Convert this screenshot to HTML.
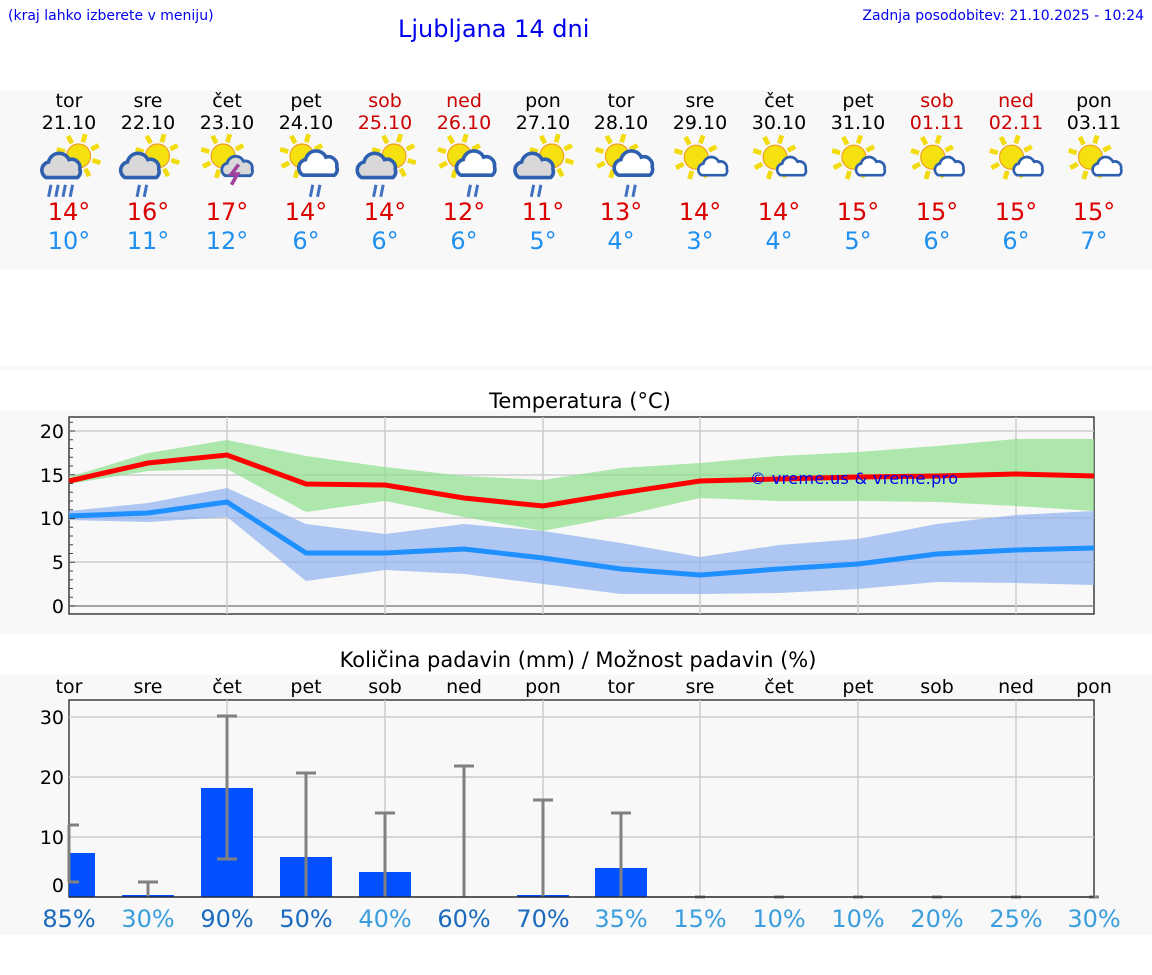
<!DOCTYPE html>
<html><head><meta charset="utf-8"><style>
body{margin:0;width:1152px;height:975px;background:#fff;font-family:"DejaVu Sans","Liberation Sans",sans-serif;position:relative;overflow:hidden}
.a{position:absolute}
</style></head><body>
<div class="a" style="left:8px;top:8px;font-size:14px;color:#0000ee">(kraj lahko izberete v meniju)</div>
<div class="a" style="left:398px;top:15px;font-size:24px;color:#0000ee">Ljubljana 14 dni</div>
<div class="a" style="right:8px;top:8px;font-size:14px;color:#0000ee">Zadnja posodobitev: 21.10.2025 - 10:24</div>
<div class="a" style="left:0;top:90px;width:1152px;height:179px;background:#f8f8f8"></div>
<div class="a" style="left:0;top:366px;width:1152px;height:4px;background:#f8f8f8"></div>
<div class="a" style="left:0;top:410px;width:1152px;height:224px;background:#f8f8f8"></div>
<div class="a" style="left:0;top:675px;width:1152px;height:260px;background:#f8f8f8"></div>
<svg class="a" style="left:0;top:0" width="1152" height="975" font-family="DejaVu Sans, Liberation Sans, sans-serif">
<g font-size="19" text-anchor="middle">
<g fill="#000"><text x="69" y="107">tor</text><text x="148" y="107">sre</text><text x="227" y="107">čet</text><text x="306" y="107">pet</text><text x="543" y="107">pon</text><text x="621" y="107">tor</text><text x="700" y="107">sre</text><text x="779" y="107">čet</text><text x="858" y="107">pet</text><text x="1094" y="107">pon</text>
<text x="69" y="129">21.10</text><text x="148" y="129">22.10</text><text x="227" y="129">23.10</text><text x="306" y="129">24.10</text><text x="543" y="129">27.10</text><text x="621" y="129">28.10</text><text x="700" y="129">29.10</text><text x="779" y="129">30.10</text><text x="858" y="129">31.10</text><text x="1094" y="129">03.11</text></g>
<g fill="#cc0000"><text x="385" y="107">sob</text><text x="464" y="107">ned</text><text x="937" y="107">sob</text><text x="1016" y="107">ned</text>
<text x="385" y="129">25.10</text><text x="464" y="129">26.10</text><text x="937" y="129">01.11</text><text x="1016" y="129">02.11</text></g>
</g>
<g font-size="24" text-anchor="middle">
<g fill="#dd0000"><text x="69" y="220">14°</text><text x="148" y="220">16°</text><text x="227" y="220">17°</text><text x="306" y="220">14°</text><text x="385" y="220">14°</text><text x="464" y="220">12°</text><text x="543" y="220">11°</text><text x="621" y="220">13°</text><text x="700" y="220">14°</text><text x="779" y="220">14°</text><text x="858" y="220">15°</text><text x="937" y="220">15°</text><text x="1016" y="220">15°</text><text x="1094" y="220">15°</text></g>
<g fill="#2090f0"><text x="69" y="249">10°</text><text x="148" y="249">11°</text><text x="227" y="249">12°</text><text x="306" y="249">6°</text><text x="385" y="249">6°</text><text x="464" y="249">6°</text><text x="543" y="249">5°</text><text x="621" y="249">4°</text><text x="700" y="249">3°</text><text x="779" y="249">4°</text><text x="858" y="249">5°</text><text x="937" y="249">6°</text><text x="1016" y="249">6°</text><text x="1094" y="249">7°</text></g>
</g>
<g id="icons"></g>

<text x="580" y="408" font-size="21" text-anchor="middle" fill="#000">Temperatura (°C)</text>
<rect x="69" y="417" width="1025" height="197" fill="#f8f8f8" stroke="#222" stroke-width="1.3"/>
<g stroke="#ccc" stroke-width="1.5">
<line x1="69" y1="431" x2="1094" y2="431"/><line x1="69" y1="475" x2="1094" y2="475"/><line x1="69" y1="518" x2="1094" y2="518"/><line x1="69" y1="562" x2="1094" y2="562"/><line x1="69" y1="606" x2="1094" y2="606" stroke="#888"/>
<line x1="227" y1="417" x2="227" y2="614"/><line x1="385" y1="417" x2="385" y2="614"/><line x1="543" y1="417" x2="543" y2="614"/><line x1="700" y1="417" x2="700" y2="614"/><line x1="858" y1="417" x2="858" y2="614"/><line x1="1016" y1="417" x2="1016" y2="614"/>
</g>
<polygon fill="#8fdf8c" opacity="0.7" points="69,477 148,453 227,440 306,456 385,467 464,476 543,480 621,468 700,463 779,456 858,452 937,446 1016,439 1094,439 1094,511 1016,506 937,502 858,501 779,501 700,498 621,516 543,531 464,517 385,501 306,512 227,469 148,471 69,484"/>
<polygon fill="#8fb0ef" opacity="0.7" points="69,511 148,503 227,488 306,524 385,534 464,524 543,531 621,543 700,557 779,545 858,539 937,524 1016,515 1094,511 1094,585 1016,583 937,582 858,589 779,593 700,594 621,594 543,584 464,574 385,570 306,581 227,517 148,522 69,520"/>
<polyline fill="none" stroke="#ff0000" stroke-width="5" points="69,481 148,463 227,455 306,484 385,485 464,498 543,506 621,493 700,481 779,479 858,477 937,476 1016,474 1094,476"/>
<polyline fill="none" stroke="#1e90ff" stroke-width="5" points="69,516 148,513 227,502 306,553 385,553 464,549 543,558 621,569 700,575 779,569 858,564 937,554 1016,550 1094,548"/>
<text x="750" y="484" font-size="16" fill="#0000ee" textLength="208">© vreme.us &amp; vreme.pro</text>
<g stroke="#444" stroke-width="1" id="ticks"></g>
<g font-size="19" text-anchor="end" fill="#000"><text x="64" y="438">20</text><text x="64" y="482">15</text><text x="64" y="525">10</text><text x="64" y="569">5</text><text x="64" y="613">0</text></g>

<text x="578" y="667" font-size="21" text-anchor="middle" fill="#000">Količina padavin (mm) / Možnost padavin (%)</text>
<g font-size="19" text-anchor="middle" fill="#000"><text x="69" y="693">tor</text><text x="148" y="693">sre</text><text x="227" y="693">čet</text><text x="306" y="693">pet</text><text x="385" y="693">sob</text><text x="464" y="693">ned</text><text x="543" y="693">pon</text><text x="621" y="693">tor</text><text x="700" y="693">sre</text><text x="779" y="693">čet</text><text x="858" y="693">pet</text><text x="937" y="693">sob</text><text x="1016" y="693">ned</text><text x="1094" y="693">pon</text></g>
<rect x="69" y="700" width="1025" height="197" fill="#f8f8f8" stroke="#222" stroke-width="1.3"/>
<g stroke="#ccc" stroke-width="1.5">
<line x1="69" y1="717" x2="1094" y2="717"/><line x1="69" y1="777" x2="1094" y2="777"/><line x1="69" y1="837" x2="1094" y2="837"/>
<line x1="227" y1="700" x2="227" y2="897"/><line x1="385" y1="700" x2="385" y2="897"/><line x1="543" y1="700" x2="543" y2="897"/><line x1="700" y1="700" x2="700" y2="897"/><line x1="858" y1="700" x2="858" y2="897"/><line x1="1016" y1="700" x2="1016" y2="897"/>
</g>
<g fill="#0050ff"><rect x="69" y="853" width="26" height="44"/><rect x="122" y="895" width="52" height="2"/><rect x="201" y="788" width="52" height="109"/><rect x="280" y="857" width="52" height="40"/><rect x="359" y="872" width="52" height="25"/><rect x="517" y="895" width="52" height="2"/><rect x="595" y="868" width="52" height="29"/></g>
<g stroke="#808080" stroke-width="3" fill="none">
<path d="M69,825V882M69,825h10M69,882h10"/>
<path d="M148,882V897M138,882h20"/>
<path d="M227,716V859M217,716h20M217,859h20"/>
<path d="M306,773V897M296,773h20"/>
<path d="M385,813V897M375,813h20"/>
<path d="M464,766V897M454,766h20"/>
<path d="M543,800V897M533,800h20"/>
<path d="M621,813V897M611,813h20"/>
<path d="M695,897h10M774,897h10M853,897h10M932,897h10M1011,897h10M1089,897h10"/>
</g>
<line x1="69" y1="897" x2="1094" y2="897" stroke="#222" stroke-width="1.3"/>
<g font-size="19" text-anchor="end" fill="#000"><text x="64" y="724">30</text><text x="64" y="784">20</text><text x="64" y="844">10</text><text x="64" y="892">0</text></g>
<g font-size="24" text-anchor="middle">
<text x="69" y="927" fill="#1a6bbf">85%</text><text x="148" y="927" fill="#3a9ede">30%</text><text x="227" y="927" fill="#1a6bbf">90%</text><text x="306" y="927" fill="#1a6bbf">50%</text><text x="385" y="927" fill="#3a9ede">40%</text><text x="464" y="927" fill="#1a6bbf">60%</text><text x="543" y="927" fill="#1a6bbf">70%</text><text x="621" y="927" fill="#3a9ede">35%</text><text x="700" y="927" fill="#3a9ede">15%</text><text x="779" y="927" fill="#3a9ede">10%</text><text x="858" y="927" fill="#3a9ede">10%</text><text x="937" y="927" fill="#3a9ede">20%</text><text x="1016" y="927" fill="#3a9ede">25%</text><text x="1094" y="927" fill="#3a9ede">30%</text>
</g>
</svg>
<script>
var t='';for(var v=0;v<=21;v++){var y=606-8.75*v;t+='<line x1="69" y1="'+y+'" x2="'+(v%5==0?75:73)+'" y2="'+y+'"/>';}document.getElementById('ticks').innerHTML=t;
var types=[0,1,2,3,1,3,1,3,4,4,4,4,4,4];var g=document.getElementById('icons');var h='';
function sun(x,y){var s='';for(var k=0;k<8;k++){var a=k*Math.PI/4+0.3;s+='<line x1="'+(x+Math.cos(a)*12)+'" y1="'+(y+Math.sin(a)*12)+'" x2="'+(x+Math.cos(a)*19)+'" y2="'+(y+Math.sin(a)*19)+'" stroke="#f2dc10" stroke-width="4"/>';}return s+'<circle cx="'+x+'" cy="'+y+'" r="10" fill="#f5e010" stroke="#f0a020" stroke-width="1"/>';}
function cloud(x,y,sc,f){return '<g transform="translate('+x+','+y+') scale('+sc+')"><path d="M-14,8 a7,7 0 0 1 2,-13 a9,9 0 0 1 17,-2 a7,7 0 0 1 9,8 a6,6 0 0 1 -2,7 z" fill="'+f+'" stroke="#2f60b0" stroke-width="3"/></g>';}
function rain(x,y,n){var s='';for(var k=0;k<n;k++){s+='<line x1="'+(x+k*6)+'" y1="'+y+'" x2="'+(x+k*6-2)+'" y2="'+(y+10)+'" stroke="#4070c0" stroke-width="2.5"/>';}return s;}
for(var i=0;i<14;i++){var cx=69+78.85*i,x=0,y=0,tp=types[i],s='';
if(tp==0){s=sun(x+8,y-5)+cloud(x-5,y+5,1,'#d8d8d8')+rain(x-15,y+19,4);}
else if(tp==1){s=sun(x+8,y-5)+cloud(x-5,y+5,1,'#d8d8d8')+rain(x-7,y+19,2);}
else if(tp==2){s=sun(x-3,y-5)+cloud(x+10,y+5,0.8,'#d8d8d8')+'<path d="M10,2 l-6,8 h5 l-5,9" fill="none" stroke="#a040a0" stroke-width="3"/>';}
else if(tp==3){s=sun(x-3,y-5)+cloud(x+12,y+3,1,'#fff')+rain(x+6,y+19,2);}
else {s=sun(x-3,y-4)+cloud(x+12,y+5,0.75,'#fff');}
h+='<g transform="translate('+cx+',162) scale(1.2)">'+s+'</g>';}
g.innerHTML=h;
</script>
</body></html>
